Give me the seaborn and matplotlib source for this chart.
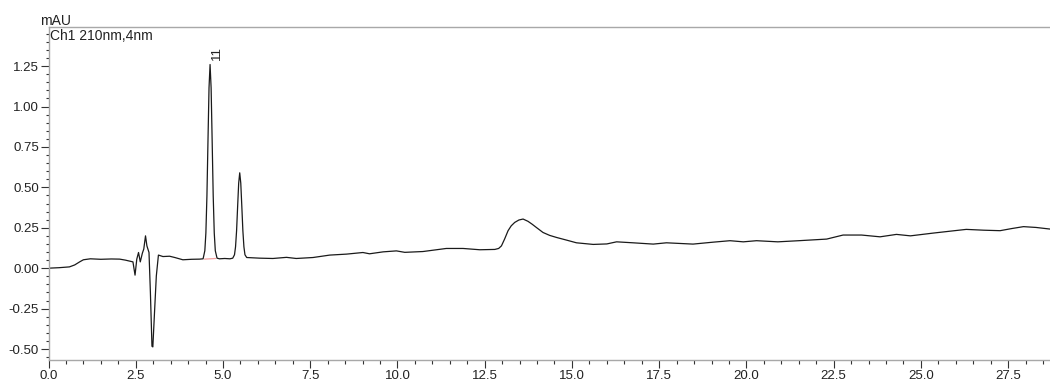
import numpy as np
import pandas as pd
import matplotlib
matplotlib.use("Agg")
import matplotlib.pyplot as plt
from matplotlib.ticker import MultipleLocator, FormatStrFormatter
import seaborn as sns

# Retention time (min) and detector signal (mAU)
time_min = [
    0.00, 0.30, 0.60, 0.75, 0.90, 1.00, 1.20, 1.50, 1.80, 2.04, 2.20, 2.42,
    2.48, 2.53, 2.58, 2.63, 2.69, 2.73, 2.78, 2.82, 2.88, 2.92, 2.965, 2.99,
    3.04, 3.09, 3.15, 3.28, 3.47, 3.62, 3.85, 4.10, 4.33, 4.43,
    4.48, 4.51, 4.54, 4.57, 4.60, 4.63, 4.66, 4.69, 4.72, 4.75, 4.78, 4.83,
    4.90, 5.05, 5.20, 5.28,
    5.33, 5.36, 5.39, 5.42, 5.45, 5.48, 5.51, 5.54, 5.57, 5.60, 5.63, 5.68,
    6.05, 6.43, 6.82, 7.10, 7.58, 8.06, 8.54, 9.01, 9.20, 9.59, 9.97, 10.21,
    10.73, 11.40, 11.88, 12.36, 12.79, 12.90, 12.98, 13.07, 13.17, 13.26, 13.36,
    13.48, 13.60, 13.74, 13.86,
    13.98, 14.17, 14.36, 14.56, 14.84, 15.13, 15.61, 16.00, 16.28, 16.75, 17.33,
    17.71, 18.47, 19.05, 19.53, 19.91, 20.29, 20.90, 21.50, 22.30, 22.77,
    23.30, 23.83, 24.30, 24.70, 25.35, 25.80, 26.30, 26.80, 27.27, 27.60,
    27.94, 28.30, 28.70,
]
signal_mau = [
    0.000, 0.003, 0.008, 0.020, 0.040, 0.052, 0.058, 0.055, 0.057, 0.056, 0.050, 0.039,
    -0.043, 0.056, 0.097, 0.039, 0.093, 0.118, 0.200, 0.138, 0.097, -0.150, -0.483, -0.487,
    -0.265, -0.048, 0.081, 0.072, 0.074, 0.066, 0.052, 0.055, 0.056, 0.058,
    0.108, 0.218, 0.447, 0.786, 1.116, 1.260, 1.116, 0.786, 0.447, 0.218, 0.108, 0.062,
    0.058, 0.060, 0.058, 0.062,
    0.083, 0.132, 0.232, 0.382, 0.526, 0.590, 0.526, 0.382, 0.232, 0.132, 0.083, 0.066,
    0.062, 0.060, 0.067, 0.060, 0.066, 0.081, 0.087, 0.097, 0.089, 0.101, 0.107, 0.098,
    0.103, 0.122, 0.122, 0.114, 0.116, 0.122, 0.138, 0.180, 0.232, 0.262, 0.283,
    0.298, 0.304, 0.290, 0.272,
    0.252, 0.221, 0.203, 0.190, 0.174, 0.157, 0.147, 0.150, 0.163, 0.157, 0.149,
    0.157, 0.149, 0.161, 0.170, 0.163, 0.170, 0.163, 0.170, 0.180, 0.205,
    0.205, 0.194, 0.209, 0.200, 0.217, 0.228, 0.240, 0.235, 0.232, 0.245,
    0.257, 0.252, 0.242,
]

# Integration baseline under peak 11
baseline_t = [4.47, 4.79]
baseline_y = [0.056, 0.060]

# Peak label
peak_label = "11"
peak_label_t = 4.84
peak_label_y = 1.33

x_ticks_major = 2.5
y_ticks_major = 0.25

sns.set_theme(style="white")
plt.rcParams["font.family"] = ["Liberation Sans", "DejaVu Sans"]

df = pd.DataFrame({"t": time_min, "mAU": signal_mau})
bdf = pd.DataFrame({"t": baseline_t, "mAU": baseline_y})

fig = plt.figure(figsize=(10.5, 3.88), dpi=100)
ax = fig.add_axes([48.5 / 1050, 28 / 388, (1050 - 48.5) / 1050, (361 - 28) / 388])

sns.lineplot(data=bdf, x="t", y="mAU", ax=ax, color="#f2a0a0", linewidth=0.9,
             estimator=None, sort=False)
sns.lineplot(data=df, x="t", y="mAU", ax=ax, color="#1a1a1a", linewidth=0.9,
             estimator=None, sort=False)

ax.set_xlim(0, 28.7)
ax.set_ylim(-0.568, 1.492)
ax.set_xlabel("")
ax.set_ylabel("")

ax.xaxis.set_major_locator(MultipleLocator(x_ticks_major))
ax.xaxis.set_minor_locator(MultipleLocator(0.5))
ax.xaxis.set_major_formatter(FormatStrFormatter("%.1f"))
ax.yaxis.set_major_locator(MultipleLocator(y_ticks_major))
ax.yaxis.set_minor_locator(MultipleLocator(0.05))
ax.yaxis.set_major_formatter(FormatStrFormatter("%.2f"))

ax.tick_params(axis="both", which="major", direction="out", color="#333333",
               labelsize=9.5, labelcolor="#222222", width=0.8, pad=1.5)
ax.tick_params(axis="x", which="major", length=5.5, bottom=True)
ax.tick_params(axis="x", which="minor", length=3, bottom=True, color="#333333", width=0.8)
ax.tick_params(axis="y", which="major", length=5.5, left=True)
ax.tick_params(axis="y", which="minor", length=2.5, left=True, color="#333333", width=0.8)

for side in ["left", "bottom", "top"]:
    ax.spines[side].set_visible(True)
    ax.spines[side].set_color("#a8a8a8")
    ax.spines[side].set_linewidth(1.0)
ax.spines["right"].set_visible(False)

ax.text(peak_label_t, peak_label_y, peak_label, rotation=90, ha="center", va="center",
        fontsize=9.5, color="#222222")
ax.text(0.0015, 0.961, "Ch1 210nm,4nm", transform=ax.transAxes, ha="left",
        va="baseline", fontsize=10, color="#222222")
fig.text(40.5 / 1050, 1 - 25 / 388, "mAU", ha="left", va="baseline",
         fontsize=10, color="#222222")

fig.savefig("out.png", dpi=100)
